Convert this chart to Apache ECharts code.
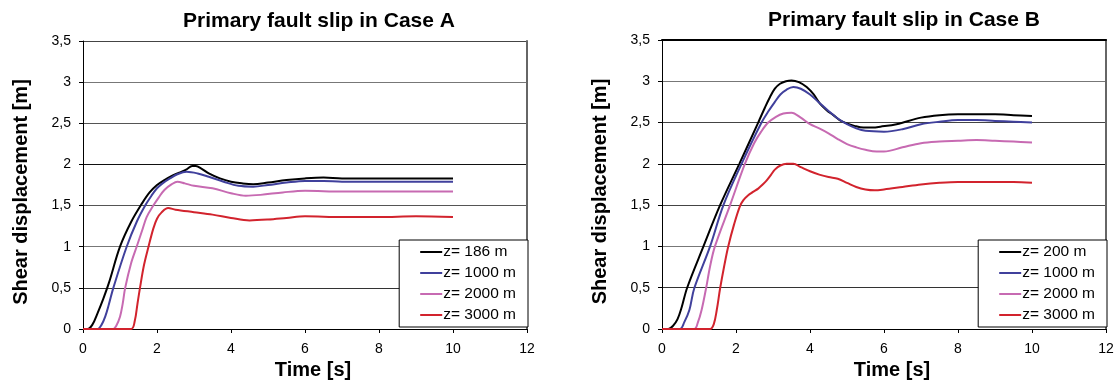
<!DOCTYPE html>
<html>
<head>
<meta charset="utf-8">
<script src="https://cdn.jsdelivr.net/npm/echarts@6/dist/echarts.min.js"></script>
<style>
  html, body { margin: 0; padding: 0; background: #fff; }
  #chart { width: 1116px; height: 383px; }
</style>
</head>
<body>
<div id="chart"></div>
<script>
// ---- Case A: slip history at four depths ----
const caseA_t186 = [0, 0.12, 0.25, 0.4, 0.55, 0.7, 1.0, 1.3, 1.6, 1.8, 2.0, 2.2, 2.4, 2.6, 2.8, 2.95, 3.05, 3.2, 3.4, 3.7, 4.0, 4.3, 4.6, 5.0, 5.5, 6.0, 6.5, 7.0, 8.0, 9.0, 10.0];
const caseA_v186 = [0, 0, 0.05, 0.2, 0.37, 0.56, 1.0, 1.3, 1.53, 1.66, 1.75, 1.81, 1.86, 1.9, 1.94, 1.98, 1.98, 1.95, 1.89, 1.83, 1.79, 1.77, 1.76, 1.78, 1.81, 1.83, 1.84, 1.83, 1.83, 1.83, 1.83];

const caseA_t1000 = [0, 0.4, 0.5, 0.6, 0.7, 0.82, 1.18, 1.45, 1.68, 1.85, 2.0, 2.15, 2.35, 2.55, 2.8, 3.1, 3.4, 3.8, 4.2, 4.6, 5.0, 5.5, 6.0, 6.5, 7.0, 8.0, 9.0, 10.0];
const caseA_v1000 = [0, 0, 0.05, 0.15, 0.3, 0.5, 1.0, 1.3, 1.5, 1.62, 1.71, 1.77, 1.83, 1.88, 1.91, 1.89, 1.85, 1.79, 1.74, 1.73, 1.75, 1.78, 1.8, 1.8, 1.79, 1.79, 1.79, 1.79];

const caseA_t2000 = [0, 0.82, 0.9, 1.0, 1.07, 1.14, 1.3, 1.45, 1.6, 1.72, 1.9, 2.05, 2.2, 2.4, 2.55, 2.75, 3.0, 3.5, 4.0, 4.4, 4.8, 5.4, 6.0, 7.0, 8.0, 9.0, 10.0];
const caseA_v2000 = [0, 0, 0.04, 0.15, 0.3, 0.5, 0.8, 1.0, 1.2, 1.36, 1.5, 1.6, 1.69, 1.76, 1.79, 1.77, 1.74, 1.71, 1.65, 1.62, 1.63, 1.66, 1.68, 1.67, 1.67, 1.67, 1.67];

const caseA_t3000 = [0, 1.3, 1.4, 1.47, 1.54, 1.65, 1.77, 1.9, 2.0, 2.13, 2.3, 2.5, 3.0, 3.5, 4.0, 4.5, 5.0, 5.5, 6.0, 7.0, 8.0, 9.0, 10.0];
const caseA_v3000 = [0, 0, 0.1, 0.3, 0.5, 0.78, 1.0, 1.22, 1.34, 1.42, 1.47, 1.45, 1.42, 1.39, 1.35, 1.32, 1.33, 1.35, 1.37, 1.36, 1.36, 1.37, 1.36];

// ---- Case B: slip history at four depths ----
const caseB_t200 = [0, 0.17, 0.3, 0.42, 0.53, 0.68, 1.12, 1.57, 2.09, 2.6, 2.78, 2.92, 3.05, 3.19, 3.35, 3.5, 3.7, 3.91, 4.1, 4.27, 4.45, 4.63, 4.8, 4.99, 5.2, 5.44, 5.7, 5.9, 6.34, 7.0, 7.5, 8.0, 8.5, 9.0, 9.5, 10.0];
const caseB_v200 = [0, 0, 0.04, 0.12, 0.26, 0.5, 1.0, 1.5, 2.0, 2.5, 2.68, 2.81, 2.91, 2.97, 3.0, 3.01, 2.99, 2.93, 2.84, 2.73, 2.65, 2.59, 2.53, 2.49, 2.46, 2.44, 2.44, 2.45, 2.48, 2.56, 2.59, 2.6, 2.6, 2.6, 2.59, 2.58];

const caseB_t1000 = [0, 0.48, 0.6, 0.74, 0.87, 1.3, 1.66, 2.15, 2.69, 2.88, 3.05, 3.2, 3.37, 3.55, 3.75, 4.0, 4.25, 4.5, 4.75, 5.0, 5.25, 5.5, 6.0, 6.5, 7.0, 7.5, 8.0, 8.5, 9.0, 9.5, 10.0];
const caseB_v1000 = [0, 0, 0.08, 0.23, 0.49, 1.0, 1.5, 2.0, 2.5, 2.64, 2.75, 2.84, 2.9, 2.93, 2.91, 2.84, 2.74, 2.64, 2.55, 2.48, 2.43, 2.4, 2.39, 2.42, 2.48, 2.51, 2.53, 2.53, 2.52, 2.51, 2.5];

const caseB_t2000 = [0, 0.87, 0.97, 1.07, 1.19, 1.3, 1.43, 1.84, 2.24, 2.49, 2.68, 2.87, 3.08, 3.28, 3.5, 3.75, 4.0, 4.25, 4.5, 4.75, 5.0, 5.25, 5.5, 5.8, 6.0, 6.5, 7.0, 7.5, 8.0, 8.5, 9.0, 9.5, 10.0];
const caseB_v2000 = [0, 0, 0.08, 0.23, 0.49, 0.76, 1.0, 1.5, 2.0, 2.25, 2.39, 2.5, 2.57, 2.61, 2.62, 2.56, 2.48, 2.43, 2.37, 2.3, 2.24, 2.2, 2.17, 2.15, 2.15, 2.2, 2.25, 2.27, 2.28, 2.29, 2.28, 2.27, 2.26];

const caseB_t3000 = [0, 1.3, 1.4, 1.48, 1.57, 1.68, 1.79, 1.95, 2.1, 2.2, 2.33, 2.46, 2.6, 2.72, 2.83, 2.95, 3.05, 3.2, 3.37, 3.55, 3.75, 4.0, 4.25, 4.5, 4.75, 5.0, 5.25, 5.5, 5.75, 6.0, 6.5, 7.0, 7.5, 8.0, 8.5, 9.0, 9.5, 10.0];
const caseB_v3000 = [0, 0, 0.06, 0.23, 0.49, 0.76, 1.0, 1.27, 1.48, 1.56, 1.62, 1.66, 1.7, 1.75, 1.8, 1.87, 1.93, 1.98, 2.0, 2.0, 1.96, 1.91, 1.87, 1.84, 1.82, 1.77, 1.72, 1.69, 1.68, 1.69, 1.72, 1.75, 1.77, 1.78, 1.78, 1.78, 1.78, 1.77];

const titles = ['Primary fault slip in Case A', 'Primary fault slip in Case B'];
const namesA = ['z= 186 m', 'z= 1000 m', 'z= 2000 m', 'z= 3000 m'];
const namesB = ['z= 200 m', 'z= 1000 m', 'z= 2000 m', 'z= 3000 m'];
const lineColors = ['#000000', '#40409c', '#c76ab2', '#d2232d'];

const FONT = '"Liberation Sans", Arial, sans-serif';

function pairs(ts, vs) { return ts.map((t, i) => [t, vs[i]]); }

const seriesA = [
  pairs(caseA_t186, caseA_v186),
  pairs(caseA_t1000, caseA_v1000),
  pairs(caseA_t2000, caseA_v2000),
  pairs(caseA_t3000, caseA_v3000)
];
const seriesB = [
  pairs(caseB_t200, caseB_v200),
  pairs(caseB_t1000, caseB_v1000),
  pairs(caseB_t2000, caseB_v2000),
  pairs(caseB_t3000, caseB_v3000)
];

// per-gridline colours, from 0 up to 3.5
const gridColorsA = ['#000', '#333', '#777', '#555', '#111', '#555', '#777', '#444'];
const gridColorsB = ['#000', '#333', '#777', '#444', '#111', '#444', '#777', '#000'];

const grids = [
  { left: 83, top: 41, width: 444, height: 288, outerBoundsMode: 'none', containLabel: false },
  { left: 662, top: 40, width: 444, height: 289, outerBoundsMode: 'none', containLabel: false }
];

function timeAxis(gi) {
  return {
    type: 'value', gridIndex: gi, min: 0, max: 12, interval: 2,
    name: 'Time [s]', nameLocation: 'middle', nameGap: 30,
    nameTextStyle: { fontFamily: FONT, fontSize: 20, fontWeight: 'bold', color: '#000', padding: [0, 0, 0, 16] },
    axisLine: { show: true, onZero: false, lineStyle: { color: '#000', width: 1 } },
    axisTick: { show: true, length: 4, lineStyle: { color: '#000' } },
    axisLabel: { margin: 13, fontFamily: FONT, fontSize: 14, color: '#000' },
    splitLine: { show: false }
  };
}

function slipAxis(gi, colors) {
  return {
    type: 'value', gridIndex: gi, min: 0, max: 3.5, interval: 0.5,
    name: 'Shear displacement [m]', nameLocation: 'middle', nameGap: 52,
    nameTextStyle: { fontFamily: FONT, fontSize: 20, fontWeight: 'bold', color: '#000', padding: [0, 14, 0, 0] },
    axisLine: { show: true, onZero: false, lineStyle: { color: '#000', width: 1 } },
    axisTick: { show: true, length: 4, lineStyle: { color: '#000' } },
    axisLabel: {
      margin: 12, fontFamily: FONT, fontSize: 14, color: '#000',
      formatter: v => String(v).replace('.', ',')
    },
    splitLine: { show: true, lineStyle: { color: colors, width: 1 } }
  };
}

// plain frame edges (right side of each plot, top of Case B)
function frameY(gi) {
  return {
    type: 'value', gridIndex: gi, position: 'right', min: 0, max: 3.5,
    axisLine: { show: true, onZero: false, lineStyle: { color: '#666', width: 2 } },
    axisTick: { show: false }, axisLabel: { show: false }, splitLine: { show: false }
  };
}

function buildSeries(data, names, xi, yi) {
  return data.map((d, i) => ({
    type: 'line', name: names[i], data: d,
    xAxisIndex: xi, yAxisIndex: yi,
    showSymbol: false, symbol: 'none',
    smooth: 0.35,
    lineStyle: { color: lineColors[i], width: 2 },
    itemStyle: { color: lineColors[i] },
    silent: true, animation: false
  }));
}

function legendFor(names, right) {
  return {
    data: names, orient: 'vertical', right: right, top: 240,
    icon: 'rect', itemWidth: 22, itemHeight: 2, itemGap: 5,
    padding: [4, 12, 4, 21],
    borderColor: '#000', borderWidth: 1, backgroundColor: '#fff',
    selectedMode: false,
    textStyle: { fontFamily: FONT, fontSize: 15.5, color: '#000', lineHeight: 16, padding: [0, 0, 0, -4] }
  };
}

const option = {
  animation: false,
  backgroundColor: '#fff',
  grid: grids,
  xAxis: [
    timeAxis(0),
    timeAxis(1),
    {
      type: 'value', gridIndex: 1, position: 'top', min: 0, max: 12,
      axisLine: { show: true, onZero: false, lineStyle: { color: '#000', width: 2 } },
      axisTick: { show: false }, axisLabel: { show: false }, splitLine: { show: false }
    }
  ],
  yAxis: [
    slipAxis(0, gridColorsA),
    slipAxis(1, gridColorsB),
    frameY(0),
    frameY(1)
  ],
  legend: [
    legendFor(namesA, 1116 - 528),
    legendFor(namesB, 1116 - 1107)
  ],
  graphic: [
    { type: 'text', x: 319, y: 21, style: { text: titles[0], textAlign: 'center', textVerticalAlign: 'middle', font: 'bold 21px ' + FONT, fill: '#000' } },
    { type: 'text', x: 904, y: 20, style: { text: titles[1], textAlign: 'center', textVerticalAlign: 'middle', font: 'bold 21px ' + FONT, fill: '#000' } }
  ],
  series: [].concat(
    buildSeries(seriesA, namesA, 0, 0),
    buildSeries(seriesB, namesB, 1, 1)
  )
};

const chart = echarts.init(document.getElementById('chart'), null, { renderer: 'canvas' });
chart.setOption(option);
</script>
</body>
</html>
